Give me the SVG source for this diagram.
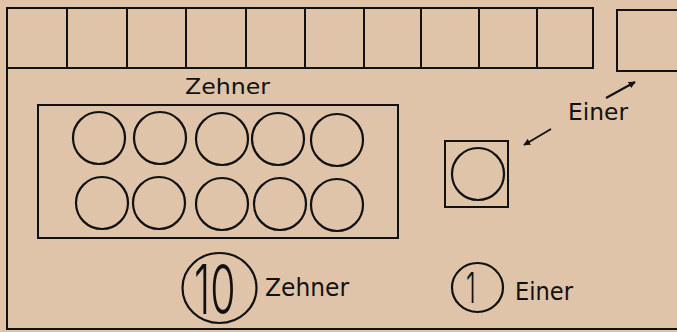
<svg xmlns="http://www.w3.org/2000/svg" width="677" height="332" viewBox="0 0 677 332">
<defs>
<style>
.ln{fill:none;stroke:#111;stroke-width:2}
.c{fill:none;stroke:#111;stroke-width:2.2}
.t{font-family:"DejaVu Sans","Liberation Sans",sans-serif;fill:#111}
.d{font-family:Inter,"Liberation Sans",sans-serif;font-weight:300;fill:#111}
</style>
<marker id="ah" viewBox="0 0 10 10" refX="9" refY="5" markerWidth="7" markerHeight="7" orient="auto" markerUnits="userSpaceOnUse">
<path d="M0,0 L10,5 L0,10 Z" fill="#111"/>
</marker>
</defs>
<rect width="677" height="332" fill="#dfc4a9"/>
<g id="frame">
<path class="ln" d="M7,8 L7,329 L677,329"/>
</g>
<g id="tenRow">
<rect class="ln" x="7" y="8" width="586" height="60"/>
<path class="ln" d="M67,8V68 M127,8V68 M186,8V68 M246,8V68 M305,8V68 M364,8V68 M421,8V68 M479,8V68 M537,8V68"/>
</g>
<g id="oneBox">
<rect class="ln" x="617" y="10" width="70" height="61"/>
</g>
<g id="zehnerLabel">
<text class="t" x="185" y="94" font-size="22" textLength="85" lengthAdjust="spacingAndGlyphs">Zehner</text>
</g>
<g id="tenFrame">
<rect class="ln" x="38" y="105" width="360" height="133"/>
<circle class="c" cx="99" cy="138" r="26"/>
<circle class="c" cx="160" cy="138" r="26"/>
<circle class="c" cx="222" cy="139" r="26"/>
<circle class="c" cx="278" cy="139" r="26"/>
<circle class="c" cx="337" cy="140" r="26"/>
<circle class="c" cx="102" cy="203" r="26"/>
<circle class="c" cx="159" cy="203" r="26"/>
<circle class="c" cx="222" cy="204" r="26"/>
<circle class="c" cx="280" cy="204" r="26"/>
<circle class="c" cx="337" cy="205" r="26"/>
</g>
<g id="einerLabel">
<text class="t" x="568" y="120" font-size="23" textLength="60" lengthAdjust="spacingAndGlyphs">Einer</text>
</g>
<g id="oneFrame">
<rect class="ln" x="445" y="141" width="63" height="66"/>
<circle class="c" cx="478" cy="174" r="26"/>
</g>
<g id="connectors">
<line class="ln" x1="606" y1="98" x2="635" y2="82" marker-end="url(#ah)"/>
<line class="ln" x1="551" y1="129" x2="524" y2="145" marker-end="url(#ah)"/>
</g>
<g id="tenToken">
<ellipse class="c" cx="219.5" cy="288" rx="37" ry="35"/>
<text class="d" transform="translate(194,314) scale(0.82,1.37)" font-size="50">10</text>
<text class="t" x="265" y="296" font-size="24" textLength="84" lengthAdjust="spacingAndGlyphs">Zehner</text>
</g>
<g id="oneToken">
<ellipse class="c" cx="477.5" cy="287.5" rx="25.5" ry="24.5"/>
<text class="d" transform="translate(466,303) scale(0.8,1.37)" font-size="31">1</text>
<text class="t" x="515" y="300" font-size="24" textLength="58" lengthAdjust="spacingAndGlyphs">Einer</text>
</g>
</svg>
